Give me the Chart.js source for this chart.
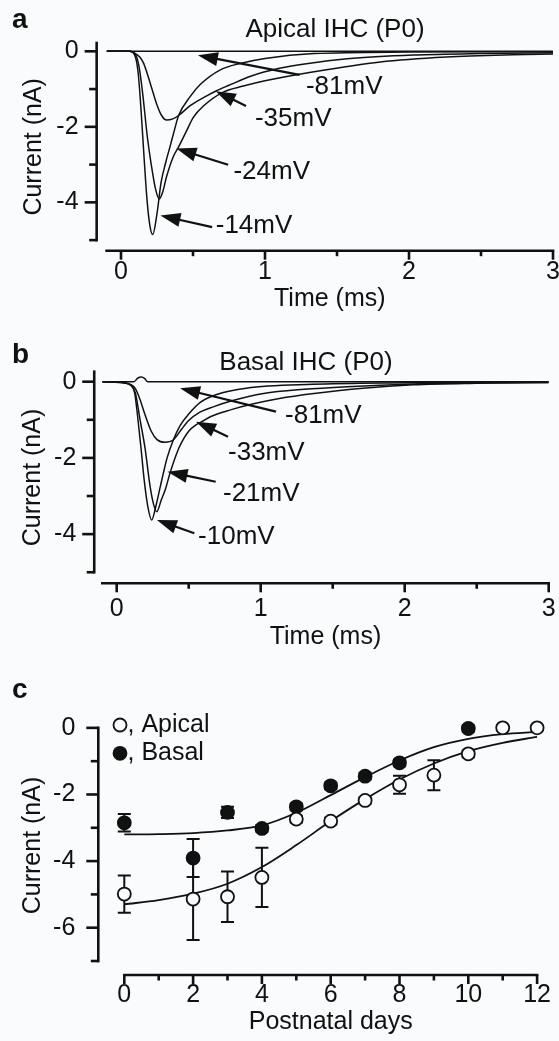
<!DOCTYPE html>
<html>
<head>
<meta charset="utf-8">
<script src="https://cdn.jsdelivr.net/npm/chart.js@4.4.1/dist/chart.umd.min.js"></script>
<style>
  html, body { margin:0; padding:0; background:#fafbfd; }
  body { width:559px; height:1041px; position:relative; overflow:hidden; }
  canvas { position:absolute; left:0; }
</style>
</head>
<body>
<canvas id="panelA" width="580" height="320" style="top:0px"></canvas>
<canvas id="panelB" width="580" height="332" style="top:320px"></canvas>
<canvas id="panelC" width="580" height="389" style="top:652px"></canvas>
<script>
// ================= DATA =================
// Panel a : Apical IHC (P0) — time (ms) and current (nA) per test potential
const aT81 = [-0.1, 0.5, 1.0, 1.5, 2.0, 2.5, 3.0];
const aI81 = [0, 0, 0, 0, 0, 0, 0];
const aT35 = [-0.1, 0.06, 0.1, 0.13, 0.155, 0.178, 0.213, 0.248, 0.282, 0.317, 0.36, 0.40, 0.48, 0.595, 0.66, 0.75, 0.9, 1.1, 1.3, 1.57, 2.03, 2.49, 3.0];
const aI35 = [0, 0, -0.06, -0.15, -0.3, -0.54, -0.97, -1.40, -1.70, -1.82, -1.79, -1.70, -1.44, -1.18, -1.05, -0.9, -0.66, -0.45, -0.32, -0.2, -0.1, -0.06, -0.04];
const aT24 = [-0.1, 0.06, 0.1, 0.125, 0.15, 0.183, 0.21, 0.24, 0.266, 0.29, 0.317, 0.363, 0.40, 0.456, 0.502, 0.572, 0.71, 0.85, 1.0, 1.34, 1.8, 2.26, 2.72, 3.0];
const aI24 = [0, 0, -0.08, -0.4, -1.1, -2.27, -3.0, -3.65, -3.91, -3.72, -3.31, -2.79, -2.53, -2.10, -1.75, -1.45, -1.08, -0.92, -0.78, -0.54, -0.28, -0.15, -0.09, -0.07];
const aT14 = [-0.1, 0.06, 0.1, 0.12, 0.14, 0.16, 0.18, 0.2, 0.22, 0.25, 0.278, 0.31, 0.34, 0.37, 0.40, 0.48, 0.55, 0.69, 0.83, 1.0, 1.34, 2.0, 3.0];
const aI14 = [0, 0, -0.15, -0.6, -1.6, -2.8, -3.9, -4.6, -4.85, -4.3, -3.48, -2.95, -2.53, -2.1, -1.70, -1.2, -0.88, -0.49, -0.32, -0.19, -0.06, -0.02, -0.01];
const labelsA = ['-81mV', '-35mV', '-24mV', '-14mV'];

// Panel b : Basal IHC (P0)
const bT81 = [-0.1, 0.05, 0.12, 0.145, 0.17, 0.195, 0.215, 0.5, 1.0, 2.0, 3.0];
const bI81 = [0, 0, 0, 0.09, 0.12, 0.08, 0, 0, 0, 0, 0];
const bT33 = [-0.1, 0.05, 0.1, 0.13, 0.16, 0.197, 0.24, 0.28, 0.335, 0.393, 0.45, 0.5, 0.578, 0.67, 0.8, 1.02, 1.3, 1.6, 2.06, 2.5, 3.0];
const bI33 = [0, -0.03, -0.08, -0.18, -0.45, -0.87, -1.3, -1.52, -1.59, -1.53, -1.25, -1.02, -0.8, -0.66, -0.5, -0.31, -0.2, -0.13, -0.06, -0.03, -0.02];
const bT21 = [-0.1, 0.05, 0.1, 0.13, 0.16, 0.197, 0.23, 0.255, 0.278, 0.31, 0.34, 0.37, 0.42, 0.45, 0.50, 0.556, 0.59, 0.65, 0.79, 0.95, 1.13, 1.37, 1.71, 2.06, 2.5, 3.0];
const bI21 = [0, -0.03, -0.1, -0.3, -0.95, -1.75, -2.7, -3.2, -3.41, -3.1, -2.8, -2.40, -1.85, -1.6, -1.3, -1.12, -1.05, -0.92, -0.74, -0.58, -0.44, -0.31, -0.17, -0.08, -0.04, -0.02];
const bT10 = [-0.1, 0.05, 0.1, 0.125, 0.145, 0.169, 0.19, 0.215, 0.243, 0.27, 0.30, 0.324, 0.35, 0.393, 0.44, 0.5, 0.578, 0.7, 0.9, 1.36, 2.0, 3.0];
const bI10 = [0, -0.03, -0.1, -0.3, -0.9, -1.75, -2.55, -3.25, -3.63, -3.3, -2.8, -2.40, -2.0, -1.53, -1.15, -0.85, -0.55, -0.33, -0.17, -0.07, -0.03, 0];
const labelsB = ['-81mV', '-33mV', '-21mV', '-10mV'];

// Tick values / labels for panels a and b
const timeTicks = [0, 0.5, 1, 1.5, 2, 2.5, 3];
const timeTickLabels = ['0', '', '1', '', '2', '', '3'];
const currentTicksAB = [-5, -4, -3, -2, -1, 0];
const currentTickLabelsAB = ['', '-4', '', '-2', '', '0'];

// Panel c : peak current vs postnatal day
const apicalDays = [0, 2, 3, 4, 5, 6, 7, 8, 9, 10, 11, 12];
const apicalCurrent = [-4.99, -5.14, -5.07, -4.49, -2.74, -2.80, -2.18, -1.71, -1.42, -0.78, 0, 0];
const apicalErr = [0.56, 1.23, 0.76, 0.89, 0.1, 0.1, 0.1, 0.27, 0.45, 0.1, 0.05, 0.05];
const basalDays = [0, 2, 3, 4, 5, 6, 7, 8, 10];
const basalCurrent = [-2.85, -3.91, -2.54, -3.02, -2.37, -1.74, -1.45, -1.05, -0.02];
const basalErr = [0.26, 0.57, 0.17, 0.1, 0.1, 0.1, 0.1, 0.1, 0.1];
const fitDays = [0, 1, 2, 3, 4, 5, 6, 7, 8, 9, 10, 11, 12];
const fitApical = [-5.30, -5.17, -4.98, -4.68, -4.18, -3.52, -2.80, -2.14, -1.55, -1.07, -0.70, -0.45, -0.27];
const fitBasal = [-3.20, -3.19, -3.16, -3.08, -2.93, -2.55, -2.02, -1.48, -0.98, -0.58, -0.33, -0.19, -0.12];
const dayTicks = [0, 1, 2, 3, 4, 5, 6, 7, 8, 9, 10, 11, 12];
const dayTickLabels = ['0', '', '2', '', '4', '', '6', '', '8', '', '10', '', '12'];
const currentTicksC = [-7, -6, -5, -4, -3, -2, -1, 0];
const currentTickLabelsC = ['', '-6', '', '-4', '', '-2', '', '0'];

// ================= STYLE / LAYOUT =================
const INK = '#111111';
const BG = '#fafbfd';
const FONT = '"Liberation Sans", Arial, Helvetica, sans-serif';
const TXT = 26;   // annotation / panel-title size
const AX = 25;    // axis titles and tick labels
Chart.defaults.font.family = FONT;
Chart.defaults.color = INK;

const xy = (t, v) => t.map((x, i) => ({x, y: v[i]}));
const trace = (t, v) => ({data: xy(t, v), borderColor: INK, borderWidth: 1.5, pointRadius: 0,
  fill: false, cubicInterpolationMode: 'monotone'});

function arrow(ctx, x1, y1, x2, y2) {
  const dx = x2 - x1, dy = y2 - y1, L = Math.hypot(dx, dy), ux = dx / L, uy = dy / L;
  const hl = 20, hw = 7;
  const bx = x2 - ux * hl, by = y2 - uy * hl;
  ctx.lineWidth = 2.2;
  ctx.beginPath(); ctx.moveTo(x1, y1); ctx.lineTo(bx + ux * 2, by + uy * 2); ctx.stroke();
  ctx.beginPath(); ctx.moveTo(x2, y2);
  ctx.lineTo(bx - uy * hw, by + ux * hw); ctx.lineTo(bx + uy * hw, by - ux * hw);
  ctx.closePath(); ctx.fill();
}

function decor(cfg) {
  return {
    id: 'decor' + cfg.key,
    beforeDatasetsDraw(chart) {
      const ctx = chart.ctx, xs = chart.scales.x, ys = chart.scales.y;
      ctx.save();
      ctx.strokeStyle = INK; ctx.fillStyle = INK; ctx.lineWidth = 2.6;
      // y axis (offset from plot, Origin style)
      const ax = xs.getPixelForValue(cfg.yAxisAt);
      ctx.lineCap = 'square';
      ctx.beginPath();
      ctx.moveTo(ax, ys.getPixelForValue(cfg.yAxisSpan[1]));
      ctx.lineTo(ax, ys.getPixelForValue(cfg.yAxisSpan[0]));
      ctx.stroke();
      ctx.lineCap = 'butt';
      ys.ticks.forEach(t => {
        const py = ys.getPixelForValue(t.value);
        const len = t.label ? 12 : 7.5;
        ctx.beginPath(); ctx.moveTo(ax, py); ctx.lineTo(ax - len, py); ctx.stroke();
      });
      // x axis
      const ay = ys.getPixelForValue(cfg.xAxisAt);
      ctx.lineCap = 'square';
      ctx.beginPath();
      ctx.moveTo(xs.getPixelForValue(cfg.xAxisSpan[0]), ay);
      ctx.lineTo(xs.getPixelForValue(cfg.xAxisSpan[1]), ay);
      ctx.stroke();
      ctx.lineCap = 'butt';
      xs.ticks.forEach(t => {
        const px = xs.getPixelForValue(t.value);
        const len = t.label ? 9 : 5.5;
        ctx.beginPath(); ctx.moveTo(px, ay); ctx.lineTo(px, ay + len); ctx.stroke();
      });
      // error bars
      ctx.lineWidth = 2;
      (cfg.errorBars || []).forEach(eb => {
        eb.x.forEach((d, i) => {
          const px = xs.getPixelForValue(d);
          const y1 = ys.getPixelForValue(eb.y[i] + eb.e[i]);
          const y2 = ys.getPixelForValue(eb.y[i] - eb.e[i]);
          ctx.beginPath();
          ctx.moveTo(px, y1); ctx.lineTo(px, y2);
          ctx.moveTo(px - 6.5, y1); ctx.lineTo(px + 6.5, y1);
          ctx.moveTo(px - 6.5, y2); ctx.lineTo(px + 6.5, y2);
          ctx.stroke();
        });
      });
      ctx.restore();
    },
    afterDatasetsDraw(chart) {
      const ctx = chart.ctx, xs = chart.scales.x, ys = chart.scales.y;
      ctx.save();
      ctx.strokeStyle = INK; ctx.fillStyle = INK;
      // panel letter
      ctx.font = 'bold 28px ' + FONT;
      ctx.textAlign = 'left'; ctx.textBaseline = 'alphabetic';
      ctx.fillText(cfg.letter.text, cfg.letter.x, cfg.letter.y);
      // panel title
      if (cfg.title) {
        ctx.font = TXT + 'px ' + FONT;
        ctx.textAlign = 'center'; ctx.textBaseline = 'middle';
        ctx.fillText(cfg.title.text, cfg.title.x, cfg.title.y);
      }
      // voltage labels with arrows
      (cfg.notes || []).forEach(n => {
        ctx.font = TXT + 'px ' + FONT;
        ctx.textAlign = 'left'; ctx.textBaseline = 'middle';
        ctx.fillText(n.text, xs.getPixelForValue(n.at[0]), ys.getPixelForValue(n.at[1]));
        arrow(ctx, xs.getPixelForValue(n.tail[0]), ys.getPixelForValue(n.tail[1]),
                   xs.getPixelForValue(n.tip[0]), ys.getPixelForValue(n.tip[1]));
      });
      // legend
      (cfg.legend || []).forEach(l => {
        const ds = chart.data.datasets[l.dataset];
        ctx.beginPath(); ctx.arc(l.x, l.y, 6.5, 0, Math.PI * 2);
        ctx.fillStyle = ds.pointBackgroundColor; ctx.fill();
        ctx.lineWidth = 1.8; ctx.strokeStyle = INK; ctx.stroke();
        ctx.fillStyle = INK;
        ctx.font = AX + 'px ' + FONT;
        ctx.textAlign = 'left'; ctx.textBaseline = 'middle';
        ctx.fillText(', ' + ds.label, l.x + 7.5, l.y);
      });
      ctx.restore();
    }
  };
}

function makePanel(id, geo, datasets, X, Y, deco) {
  const W = 580;
  return new Chart(document.getElementById(id), {
    type: 'line',
    data: {datasets},
    options: {
      responsive: false, animation: false, devicePixelRatio: 1,
      layout: {padding: {left: 0, top: geo.top, right: W - geo.right, bottom: 0}},
      plugins: {legend: {display: false}, tooltip: {enabled: false}},
      scales: {
        x: {
          type: 'linear', min: X.min, max: X.max,
          afterFit: s => { s.height = geo.height - geo.bottom; },
          afterBuildTicks: s => { s.ticks = X.ticks.map(v => ({value: v})); },
          grid: {display: false, drawTicks: false}, border: {display: false},
          ticks: {autoSkip: false, maxRotation: 0, padding: X.pad, color: INK,
                  font: {size: AX, lineHeight: 1.2},
                  callback: v => { const i = X.ticks.indexOf(v); return i < 0 ? '' : X.labels[i]; }},
          title: {display: true, text: X.title, color: INK, font: {size: AX, lineHeight: 1.2},
                  padding: {top: 0, bottom: X.titlePad}}
        },
        y: {
          type: 'linear', min: Y.min, max: Y.max,
          afterFit: s => { s.width = geo.left; },
          afterBuildTicks: s => { s.ticks = Y.ticks.map(v => ({value: v})); },
          grid: {display: false, drawTicks: false}, border: {display: false},
          ticks: {autoSkip: false, padding: Y.pad, color: INK,
                  font: {size: AX, lineHeight: 1.2},
                  callback: v => { const i = Y.ticks.indexOf(v); return i < 0 ? '' : Y.labels[i]; }},
          title: {display: true, text: Y.title, color: INK, font: {size: AX, lineHeight: 1.2},
                  padding: {top: Y.titlePad, bottom: 0}}
        }
      }
    },
    plugins: [decor(deco)]
  });
}

// ---------- Panel a ----------
makePanel('panelA',
  {left: 106.6, top: 39.2, right: 553, bottom: 250.7, height: 320},
  [trace(aT81, aI81), trace(aT35, aI35), trace(aT24, aI24), trace(aT14, aI14)],
  {min: -0.1, max: 3, ticks: timeTicks, labels: timeTickLabels, pad: 6.4, title: 'Time (ms)', titlePad: 6},
  {min: -5.28, max: 0.22, ticks: currentTicksAB, labels: currentTickLabelsAB, pad: 28, title: 'Current (nA)', titlePad: 19},
  {key: 'A', yAxisAt: -0.169, yAxisSpan: [-5, 0.22], xAxisAt: -5.28, xAxisSpan: [-0.1, 3],
   letter: {text: 'a', x: 12, y: 28.3},
   title: {text: 'Apical IHC (P0)', x: 335, y: 30},
   notes: [
     {text: labelsA[0], at: [1.284, -0.944], tail: [1.24, -0.624], tip: [0.534, -0.104]},
     {text: labelsA[1], at: [0.93, -1.794], tail: [0.868, -1.446], tip: [0.658, -1.056]},
     {text: labelsA[2], at: [0.781, -3.18], tail: [0.744, -3.006], tip: [0.385, -2.574]},
     {text: labelsA[3], at: [0.658, -4.63], tail: [0.633, -4.654], tip: [0.274, -4.35]}
   ]});

// ---------- Panel b ----------
makePanel('panelB',
  {left: 102.3, top: 51.7, right: 548.7, bottom: 263.3, height: 332},
  [trace(bT81, bI81), trace(bT33, bI33), trace(bT21, bI21), trace(bT10, bI10)],
  {min: -0.1, max: 3, ticks: timeTicks, labels: timeTickLabels, pad: 10.4, title: 'Time (ms)', titlePad: 0.3},
  {min: -5.29, max: 0.262, ticks: currentTicksAB, labels: currentTickLabelsAB, pad: 26, title: 'Current (nA)', titlePad: 18},
  {key: 'B', yAxisAt: -0.156, yAxisSpan: [-5, 0.262], xAxisAt: -5.29, xAxisSpan: [-0.1, 3],
   letter: {text: 'b', x: 12, y: 43.3},
   title: {text: 'Basal IHC (P0)', x: 306, y: 42.5},
   notes: [
     {text: labelsB[0], at: [1.169, -0.90], tail: [1.106, -0.787], tip: [0.44, -0.17]},
     {text: labelsB[1], at: [0.773, -1.858], tail: [0.773, -1.444], tip: [0.551, -1.05]},
     {text: labelsB[2], at: [0.738, -2.948], tail: [0.6875, -2.625], tip: [0.353, -2.362]},
     {text: labelsB[3], at: [0.565, -4.076], tail: [0.539, -3.979], tip: [0.279, -3.63]}
   ]});

// ---------- Panel c ----------
makePanel('panelC',
  {left: 124.3, top: 54, right: 537.1, bottom: 323, height: 389},
  [
    {label: 'Apical', data: xy(apicalDays, apicalCurrent), showLine: false, order: 0, clip: false,
     pointStyle: 'circle', pointRadius: 6.5, pointBackgroundColor: BG, pointBorderColor: INK,
     pointBorderWidth: 1.8, borderColor: INK, backgroundColor: BG},
    {label: 'Basal', data: xy(basalDays, basalCurrent), showLine: false, order: 1, clip: false,
     pointStyle: 'circle', pointRadius: 6.5, pointBackgroundColor: INK, pointBorderColor: INK,
     pointBorderWidth: 1.8, borderColor: INK, backgroundColor: INK},
    {label: 'Apical fit', data: xy(fitDays, fitApical), order: 5, borderColor: INK, borderWidth: 1.8,
     pointRadius: 0, fill: false, cubicInterpolationMode: 'monotone', clip: false},
    {label: 'Basal fit', data: xy(fitDays, fitBasal), order: 6, borderColor: INK, borderWidth: 1.8,
     pointRadius: 0, fill: false, cubicInterpolationMode: 'monotone', clip: false}
  ],
  {min: 0, max: 12, ticks: dayTicks, labels: dayTickLabels, pad: 5, title: 'Postnatal days', titlePad: 4.3},
  {min: -7.42, max: 0.356, ticks: currentTicksC, labels: currentTickLabelsC, pad: 49, title: 'Current (nA)', titlePad: 18},
  {key: 'C', yAxisAt: -0.756, yAxisSpan: [-7, 0], xAxisAt: -7.42, xAxisSpan: [0, 12],
   letter: {text: 'c', x: 12, y: 46.3},
   errorBars: [
     {x: apicalDays, y: apicalCurrent, e: apicalErr},
     {x: basalDays, y: basalCurrent, e: basalErr}
   ],
   legend: [
     {dataset: 0, x: 120, y: 73},
     {dataset: 1, x: 120, y: 101.3}
   ]});
</script>
</body>
</html>
